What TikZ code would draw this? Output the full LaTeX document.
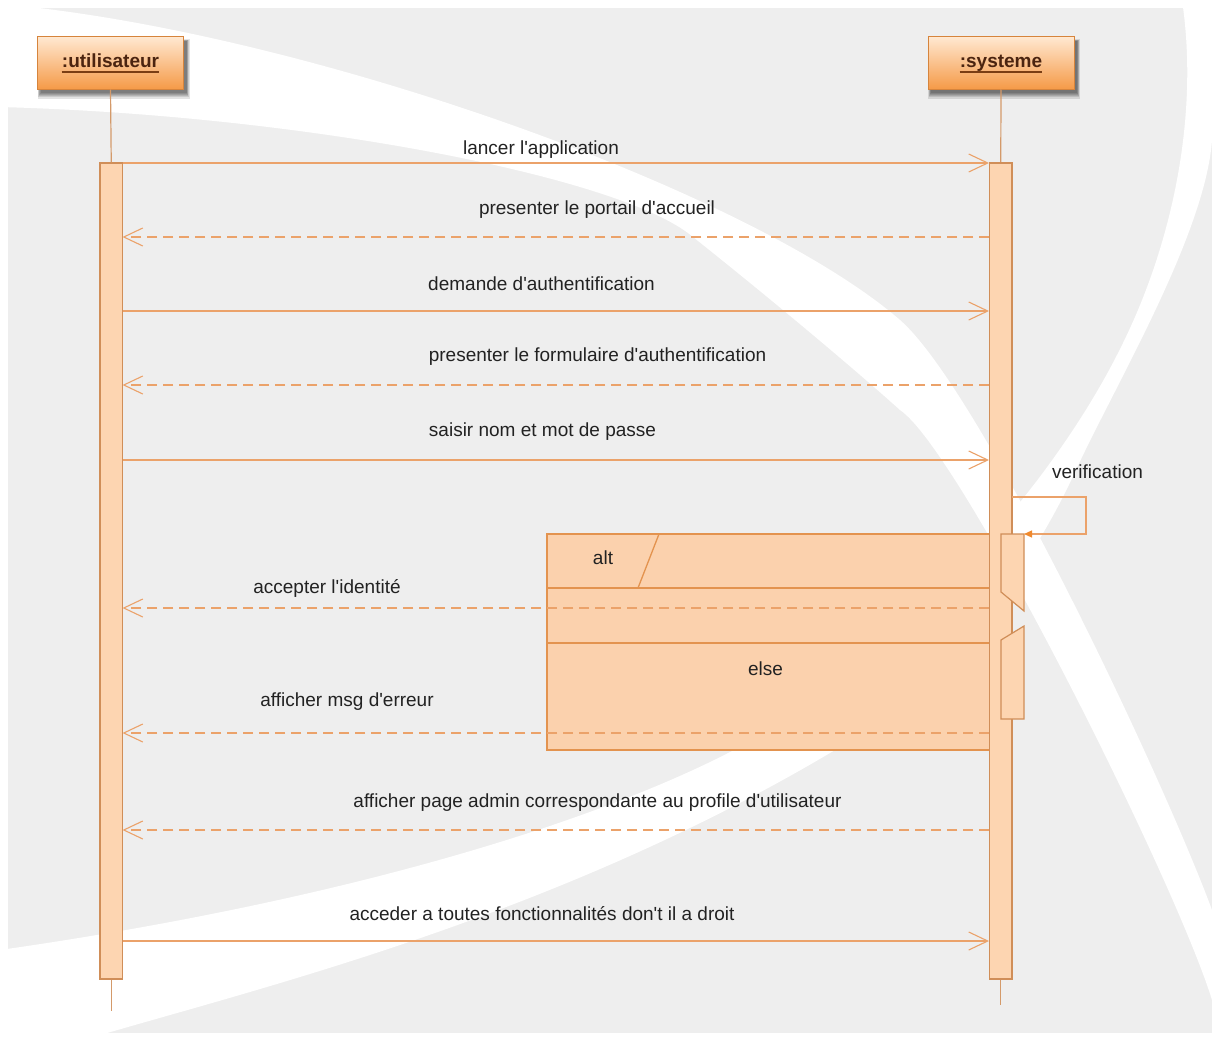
\documentclass[tikz,border=0pt]{standalone}
\usepackage{fontspec}
\setmainfont{Liberation Sans}[Ligatures=TeXOff]
\usetikzlibrary{arrows.meta}

\definecolor{bggrey}{HTML}{EEEEEE}
\definecolor{msgcol}{HTML}{EBA26A}
\definecolor{barfill}{HTML}{FDD5B1}
\definecolor{barline}{HTML}{D08E58}
\definecolor{fragfill}{HTML}{FBD1AD}
\definecolor{fragline}{HTML}{E3934F}
\definecolor{lifecol}{HTML}{D49A6A}
\definecolor{boxtop}{HTML}{FFE8D0}
\definecolor{boxbottom}{HTML}{F59A48}
\definecolor{boxline}{HTML}{D6843C}
\definecolor{actortext}{HTML}{4B2410}
\definecolor{ulinecol}{HTML}{7A3E14}
\definecolor{textcol}{HTML}{222222}
\definecolor{selftip}{HTML}{F08A2E}

\begin{document}
\begin{tikzpicture}[x=1pt, y=-1pt,
  font=\fontsize{19}{23}\selectfont,
  actorbox/.style={rectangle, draw=boxline, line width=1pt, top color=boxtop,
    bottom color=boxbottom, minimum width=146pt, minimum height=52pt, inner sep=0pt},
  actorname/.style={text=actortext, font=\fontsize{19}{23}\selectfont\bfseries,
    inner sep=0pt, anchor=base},
  nameline/.style={draw=ulinecol, line width=2pt},
  actbar/.style={draw=barline, fill=barfill, line width=1.2pt},
  barnode/.style={actbar, rectangle, minimum width=22.5pt, minimum height=816pt, inner sep=0pt},
  lifeline/.style={draw=lifecol, line width=1.2pt},
  sync/.style={draw=msgcol, line width=1.4pt,
    -{Straight Barb[length=19pt,width=18pt,line width=1.1pt]}},
  reply/.style={sync, dash pattern=on 10pt off 6pt},
  selfmsg/.style={draw=msgcol, line width=1.2pt,
    -{Triangle[length=8pt,width=7pt,fill=selftip,color=selftip]}},
  msglabel/.style={text=textcol, inner sep=0pt},
  fragment/.style={draw=fragline, fill=fragfill, line width=1.3pt},
  fragline/.style={draw=fragline, line width=1.3pt},
]
\useasboundingbox (0,0) rectangle (1212,1041);

% ---- backdrop: grey panel with two white swooshes ----
\fill[white] (0,0) rectangle (1212,1041);
\fill[bggrey] (8,8) rectangle (1212,1033);
% swoosh from the upper left down to the lower right corner
\fill[white] (0,4) .. controls (300,30) and (750,190) .. (900,320)
  .. controls (980,390) and (1162,775) .. (1212,910)
  -- (1212,1000)
  .. controls (1175,880) and (960,450) .. (900,410)
  .. controls (850,365) and (760,290) .. (688,233)
  .. controls (610,175) and (300,115) .. (0,107)
  -- cycle;
% swoosh from the upper right down to the lower left corner
\fill[white] (1182,0) .. controls (1200,120) and (1170,250) .. (1120,349)
  .. controls (1070,450) and (950,620) .. (734,750)
  .. controls (600,820) and (350,900) .. (0,950)
  -- (0,1041) -- (80,1041)
  .. controls (250,990) and (550,920) .. (835,750)
  .. controls (950,680) and (1030,570) .. (1075,472)
  .. controls (1115,385) and (1205,235) .. (1212,140)
  -- (1212,0) -- cycle;

% ---- participants ----
\foreach \cx in {110.5,1001}{
  \foreach \k in {0,...,5}
    \fill[black, opacity=0.11] (\cx-73+3-\k*0.6, 41-\k*0.3) rectangle (\cx+73+3+\k*0.6, 93+\k*1.1);
}
\node[actorbox] (user) at (110.5,63) {};
\node[actorbox] (sys) at (1001,63) {};
\node[actorname] (username) at (110.5,67.5) {:utilisateur};
\node[actorname] (sysname) at (1001,67.5) {:systeme};
\draw[nameline] ([yshift=-4.2pt]username.base west) -- ([yshift=-4.2pt]username.base east);
\draw[nameline] ([yshift=-4.2pt]sysname.base west) -- ([yshift=-4.2pt]sysname.base east);

% ---- lifelines and activation bars ----
\node[barnode] (ubar) at (111.25,571) {};
\node[barnode] (sbar) at (1000.75,571) {};
\coordinate (uend) at (111.25,1011);
\coordinate (send) at (1000.75,1005);
\draw[lifeline] (user.south) -- (ubar.north);
\draw[lifeline] (sys.south) -- (sbar.north);
\draw[lifeline] (ubar.south) -- (uend);
\draw[lifeline] (sbar.south) -- (send);

% ---- alt combined fragment ----
\draw[fragment] (547,534) rectangle (989.5,750);
\draw[fragline] (547,588) -- (989.5,588);
\draw[fragline] (547,643) -- (989.5,643);
\draw[fragline] (659,534) -- (638,588);
\node[msglabel] (altlbl) at (603,557.5) {alt};
\node[msglabel] (elselbl) at (765.5,668.5) {else};

% redraw the system bar over the fragment edge
\node[barnode] at (1000.75,571) {};

% ---- nested activations of the verification ----
\draw[actbar] (1001,534) -- (1024,534) -- (1024,611) -- (1001,592) -- cycle;
\draw[actbar] (1001,640) -- (1024,626) -- (1024,719) -- (1001,719) -- cycle;

% ---- message end points ----
\foreach \n/\yy in {1/163, 2/237, 3/311, 4/385, 5/460, 6/608, 7/733, 8/830, 9/941}{
  \coordinate (u\n) at (122.5,\yy);
  \coordinate (s\n) at (989,\yy);
}
\coordinate (vout) at (1012,497);
\coordinate (vr1) at (1086,497);
\coordinate (vr2) at (1086,534);
\coordinate (vin) at (1024,534);

% ---- messages ----
\draw[sync]  (u1) -- (s1);
\draw[reply] (s2) -- (u2);
\draw[sync]  (u3) -- (s3);
\draw[reply] (s4) -- (u4);
\draw[sync]  (u5) -- (s5);
\draw[selfmsg] (vout) -- (vr1) -- (vr2) -- (vin);
\draw[reply] (s6) -- (u6);
\draw[reply] (s7) -- (u7);
\draw[reply] (s8) -- (u8);
\draw[sync]  (u9) -- (s9);

% ---- message labels ----
\node[msglabel] (m1) at (541,149.5) {lancer l'application};
\node[msglabel] (m2) at (597,209.5) {presenter le portail d'accueil};
\node[msglabel] (m3) at (541.5,283.5) {demande d'authentification};
\node[msglabel] (m4) at (597.5,357) {presenter le formulaire d'authentification};
\node[msglabel] (m5) at (542.5,431.5) {saisir nom et mot de passe};
\node[msglabel] (mv) at (1097.5,471.5) {verification};
\node[msglabel] (m6) at (327,588.5) {accepter l'identité};
\node[msglabel] (m7) at (347,701.5) {afficher msg d'erreur};
\node[msglabel] (m8) at (597.5,802.5) {afficher page admin correspondante au profile d'utilisateur};
\node[msglabel] (m9) at (542,913.5) {acceder a toutes fonctionnalités don't il a droit};
\end{tikzpicture}
\end{document}
